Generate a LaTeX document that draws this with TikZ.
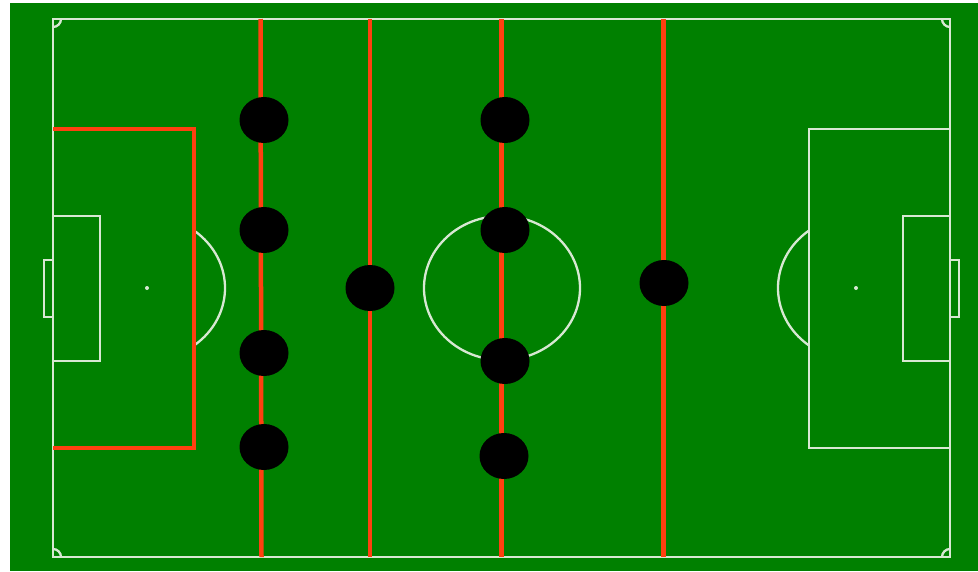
\documentclass[tikz,border=0pt]{standalone}
\usetikzlibrary{shapes.geometric}
\definecolor{pitch}{RGB}{0,128,0}
\definecolor{redline}{RGB}{255,64,16}
\definecolor{chalk}{RGB}{215,232,210}
\tikzset{
  chalkline/.style={draw=chalk, line width=2.3pt},
  redmark/.style={draw=redline, line width=4.5pt},
  player/.style={ellipse, fill=black, draw=none, minimum width=49pt, minimum height=46pt, inner sep=0pt},
  spot/.style={circle, fill=chalk, draw=none, minimum size=4pt, inner sep=0pt}
}
\begin{document}
\begin{tikzpicture}[x=1pt,y=-1pt]
\useasboundingbox (0,0) rectangle (978,571);
\fill[white] (0,0) rectangle (978,571);
\fill[pitch] (10,3) rectangle (978,571);
% outer lines
\draw[chalkline] (53,19) rectangle (950,557);
% corner arcs
\draw[chalkline] (61,19) arc[start angle=0, end angle=90, radius=8];
\draw[chalkline] (942,19) arc[start angle=180, end angle=90, radius=8];
\draw[chalkline] (61,557) arc[start angle=0, end angle=-90, radius=8];
\draw[chalkline] (942,557) arc[start angle=180, end angle=270, radius=8];
% left side
\draw[chalkline] (53,216) rectangle (100,361);
\draw[chalkline] (44,260) rectangle (53,317);
\node[spot] (lspot) at (147,288) {};
\begin{scope}
\clip (194,0) rectangle (300,571);
\draw[chalkline] (147,288) ellipse[x radius=78, y radius=72];
\end{scope}
% right side
\draw[chalkline] (809,129) rectangle (950,448);
\draw[chalkline] (903,216) rectangle (950,361);
\draw[chalkline] (950,260) rectangle (959,317);
\node[spot] (rspot) at (856,288) {};
\begin{scope}
\clip (700,0) rectangle (809,571);
\draw[chalkline] (856,288) ellipse[x radius=78, y radius=72];
\end{scope}
% centre
\draw[chalkline] (501,19) -- (501,557);
\draw[chalkline] (502,288) ellipse[x radius=78, y radius=72];
\node[spot, minimum size=2pt] (cspot) at (501,288) {};
% red markings
\draw[redmark, line join=miter] (53,129) -- (194,129) -- (194,448) -- (53,448);
\draw[redmark] (260.5,19) -- (261.5,557);
\draw[redmark] (370,19) -- (370,557);
\draw[redmark] (501.5,19) -- (501.5,557);
\draw[redmark] (663.5,19) -- (663.5,557);
% players
\node[player] (d1) at (264,120) {};
\node[player] (d2) at (264,230) {};
\node[player] (d3) at (264,353) {};
\node[player] (d4) at (264,447) {};
\node[player] (dm) at (370,288) {};
\node[player] (m1) at (505,120) {};
\node[player] (m2) at (505,230) {};
\node[player] (m3) at (505,361) {};
\node[player] (m4) at (504,456) {};
\node[player] (st) at (664,283) {};
\end{tikzpicture}
\end{document}
